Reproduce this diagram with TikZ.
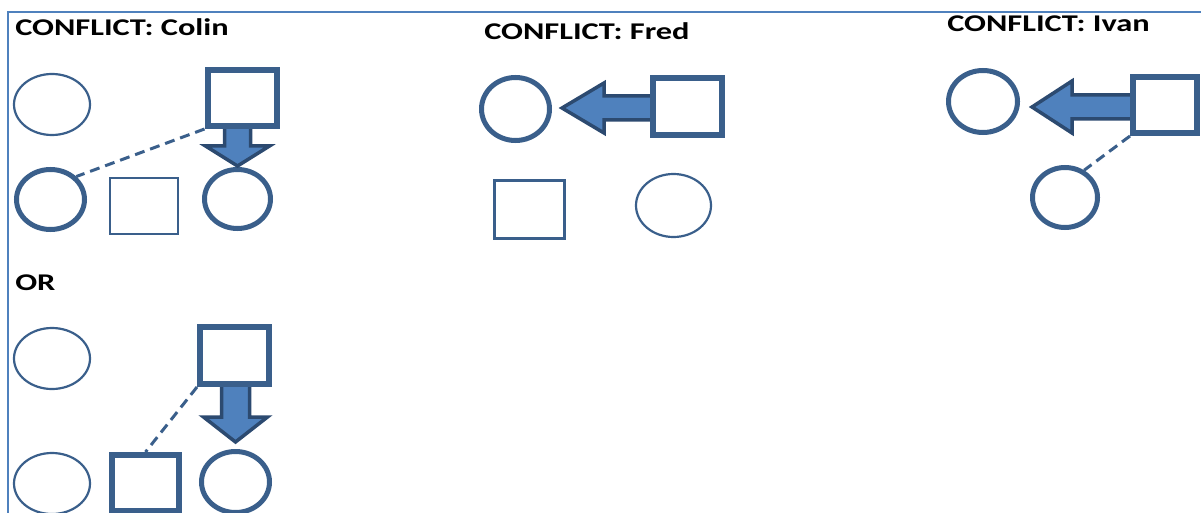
\documentclass[tikz,border=0pt]{standalone}
\usepackage{fontspec}
\setmainfont{Carlito}
\usetikzlibrary{shapes.geometric,calc}
\definecolor{frameblue}{HTML}{4F81BD}
\definecolor{shapeblue}{HTML}{3A5F8B}
\definecolor{arrowfill}{HTML}{4F81BD}
\definecolor{arrowline}{HTML}{2C4A70}
\tikzset{
  thinell/.style={ellipse,draw=shapeblue,line width=2.2pt,inner sep=0pt},
  thickell/.style={ellipse,draw=shapeblue,line width=5pt,inner sep=0pt},
  thinbox/.style={rectangle,draw=shapeblue,line width=2.2pt,inner sep=0pt},
  midbox/.style={rectangle,draw=shapeblue,line width=3pt,inner sep=0pt},
  thickbox/.style={rectangle,draw=shapeblue,line width=6pt,inner sep=0pt,fill=white},
  blockarrow/.style={fill=arrowfill,draw=arrowline,line width=3.5pt,line join=miter},
  dashlink/.style={draw=shapeblue,line width=3pt,dash pattern=on 10pt off 6pt},
  title/.style={font=\bfseries\fontsize{24}{28}\selectfont,inner sep=0pt,anchor=base west,xscale=1.35,transform shape},
  sz/.style 2 args={minimum width=#1pt,minimum height=#2pt}
}
\begin{document}
\begin{tikzpicture}[x=1pt,y=-1pt]
\useasboundingbox (0,0) rectangle (1201,513);
\clip (0,0) rectangle (1201,513);
% frame
\draw[frameblue,line width=1.5pt] (8,513) -- (8,12) -- (1201,12);
% titles
\node[title] (tcolin) at (15,36) {CONFLICT: Colin};
\node[title] (tfred) at (484,40) {CONFLICT: Fred};
\node[title] (tivan) at (947,32) {CONFLICT: Ivan};
\node[title] (tor) at (15,290) {OR};
% Colin
\node[thinell,sz={76}{61}] (ctl) at (52,104.5) {};
\node[thickell,sz={68}{60}] (cbl) at (50.5,199.5) {};
\node[thinbox,sz={68}{56}] (cmid) at (144,206) {};
\node[thickell,sz={66}{59}] (cbr) at (237.5,199) {};
\coordinate (ctip) at ($(cbr.north)+(0,-1)$);
\coordinate (cst) at (ctip |- 0,120);
\draw[blockarrow] ($(cst)+(-13,0)$) -- ($(ctip)+(-13,-20)$) -- ($(ctip)+(-32,-20)$) -- (ctip) -- ($(ctip)+(32,-20)$) -- ($(ctip)+(13,-20)$) -- ($(cst)+(13,0)$) -- cycle;
\node[thickbox,sz={69}{56}] (csq) at (242,98) {};
\draw[dashlink] (csq.south west) -- (cbl.north east);
% Fred
\node[thickell,sz={68}{63}] (fc) at (515.5,109) {};
\node[midbox,sz={70}{58}] (fbox) at (529.5,209.5) {};
\node[thinell,sz={75}{63}] (fell) at (673.5,205.5) {};
\coordinate (ftip) at ($(fc.east)+(10,-1)$);
\coordinate (fst) at (660,0 |- ftip);
\draw[blockarrow] (ftip) -- ($(ftip)+(42,-25)$) -- ($(ftip)+(42,-12)$) -- ($(fst)+(0,-12)$) -- ($(fst)+(0,12)$) -- ($(ftip)+(42,12)$) -- ($(ftip)+(42,25)$) -- cycle;
\node[thickbox,sz={69}{57}] (fsq) at (687.5,106.5) {};
% Ivan
\node[thickell,sz={69}{62}] (ic) at (983,101.5) {};
\node[thickell,sz={65}{60}] (ibc) at (1065,197.5) {};
\coordinate (itip) at ($(ic.east)+(12,5.5)$);
\coordinate (ist) at (1140,0 |- itip);
\draw[blockarrow] (itip) -- ($(itip)+(40,-26)$) -- ($(itip)+(40,-12)$) -- ($(ist)+(0,-12)$) -- ($(ist)+(0,12)$) -- ($(itip)+(40,12)$) -- ($(itip)+(40,26)$) -- cycle;
\node[thickbox,sz={64}{56}] (isq) at (1165,105) {};
\draw[dashlink] (isq.south west) -- (ibc.55);
% OR
\node[thinell,sz={76}{61}] (otl) at (52,358.5) {};
\node[thinell,sz={76}{61}] (obl) at (52,483.5) {};
\node[thickbox,sz={67}{56}] (obox) at (145.5,483) {};
\node[thickell,sz={68}{61}] (obr) at (235.5,482) {};
\coordinate (otip) at ($(obr.north)+(0,-7)$);
\coordinate (ost) at (otip |- 0,375);
\draw[blockarrow] ($(ost)+(-14,0)$) -- ($(otip)+(-14,-25)$) -- ($(otip)+(-32,-25)$) -- (otip) -- ($(otip)+(32,-25)$) -- ($(otip)+(14,-25)$) -- ($(ost)+(14,0)$) -- cycle;
\node[thickbox,sz={69}{57}] (osq) at (234.5,355.5) {};
\draw[dashlink] (osq.south west) -- (obox.north);
\end{tikzpicture}
\end{document}
